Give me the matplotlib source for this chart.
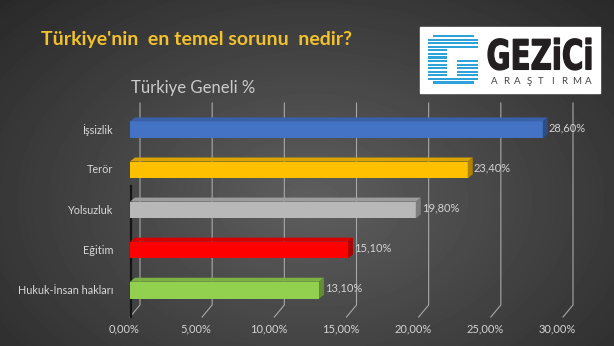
import numpy as np
import matplotlib.pyplot as plt
from matplotlib.patches import Polygon, Rectangle, PathPatch
from matplotlib.textpath import TextPath
from matplotlib.font_manager import FontProperties
from matplotlib.transforms import Affine2D

# data
categories = ['İşsizlik', 'Terör', 'Yolsuzluk', 'Eğitim', 'Hukuk-İnsan hakları']
values = [28.6, 23.4, 19.8, 15.1, 13.1]
colors = ['#4472C4', '#FFC000', '#B8B8B8', '#FF0000', '#92D050']
xticks = [0, 5, 10, 15, 20, 25, 30]

W, H = 614, 346
plt.rcParams['font.family'] = ['Lato', 'DejaVu Sans']

fig = plt.figure(figsize=(W / 100, H / 100), dpi=100)

# dark radial background
bg = fig.add_axes([0, 0, 1, 1])
yy, xx = np.mgrid[0:H, 0:W]
r = np.sqrt(((xx - 310) / 430) ** 2 + ((yy - 200) / 290) ** 2)
shade = 0.37 - 0.21 * np.clip(r, 0, 1)
bg.imshow(shade, cmap='gray', vmin=0, vmax=1, extent=[0, W, H, 0], aspect='auto')
bg.set_xlim(0, W)
bg.set_ylim(H, 0)
bg.axis('off')

# chart area (front plane: 0 -> x=130px, 30 -> x=563px)
x0, x1 = 130, 563
ytop, ybot = 103, 317
ax = fig.add_axes([x0 / W, 1 - ybot / H, (x1 - x0) / W, (ybot - ytop) / H])
ax.set_xlim(0, 30)
ax.set_ylim(4.67, -0.67)
ax.patch.set_visible(False)
for s in ax.spines.values():
    s.set_visible(False)
ax.set_xticks([])
ax.set_yticks([])

pxx = (x1 - x0) / 30.0
pxy = (ybot - ytop) / (4.67 + 0.67)
back = 10 / pxx

# gridlines on the back wall + floor diagonals
for t in xticks:
    ax.plot([t + back, t + back, t], [-0.67, 4.37, 4.67], color='#a8a8a8',
            lw=0.8, clip_on=False, zorder=1)
    ax.text(t - 6 / pxx, 4.67 + 12 / pxy, ('%.2f%%' % t).replace('.', ','),
            ha='center', va='center', fontsize=8, color='#d4d4d4', clip_on=False)

# dark side wall edge
ax.plot([0.1, 0.1], [1.4, 4.67], color='#151515', lw=1.6, zorder=2, clip_on=False)

ypos = np.arange(len(categories))
bh = 0.42
ax.barh(ypos, values, height=bh, color=colors, zorder=3)

ddx = 5 / pxx
ddy = 4 / pxy


def shade_col(c, f):
    rgb = np.array(plt.matplotlib.colors.to_rgb(c))
    return tuple(rgb * f)


for y, v, c in zip(ypos, values, colors):
    top = y - bh / 2
    bot = y + bh / 2
    ax.add_patch(Polygon([(0, top), (v, top), (v + ddx, top - ddy), (ddx, top - ddy)],
                         closed=True, color=shade_col(c, 0.85), zorder=3, lw=0))
    ax.add_patch(Polygon([(v, top), (v + ddx, top - ddy), (v + ddx, bot - ddy), (v, bot)],
                         closed=True, color=shade_col(c, 0.68), zorder=3, lw=0))
    ax.text(v + ddx + 1 / pxx, y - 0.06, ('%.2f%%' % v).replace('.', ','),
            ha='left', va='center', fontsize=8, color='#d4d4d4', zorder=4)
    ax.text(-17 / pxx, y, categories[y], ha='right', va='center',
            fontsize=7.8, color='#d8d8d8', clip_on=False)

# titles
fig.text(41 / W, 1 - 39 / H, "Türkiye'nin  en temel sorunu  nedir?", fontsize=14,
         fontweight='bold', color='#F2C12E', va='center')
fig.text(131 / W, 1 - 88 / H, 'Türkiye Geneli %', fontsize=12,
         color='#cccccc', va='center')

# logo
lg = fig.add_axes([0, 0, 1, 1])
lg.set_xlim(0, W)
lg.set_ylim(H, 0)
lg.axis('off')
lg.add_patch(Rectangle((420, 27), 180, 66, color='white', zorder=1))
rows = ([[(433, 474)]] + [[(428, 478)]] * 3 + [[(428, 447)]] * 3
        + [[(428, 447), (457, 478)]] * 5 + [[(428, 478)]] + [[(433, 474)]])
pitch = 50 / 14.0
for i, segs in enumerate(rows):
    for a, b in segs:
        lg.add_patch(Rectangle((a, 35 + i * pitch), b - a, pitch * 0.62,
                               color='#2EA3DA', zorder=2, lw=0))
tp = TextPath((0, 0), 'GEZiCi', size=1, prop=FontProperties(family='DejaVu Sans', weight='bold'))
bb = tp.get_extents()
tr = Affine2D().translate(-bb.x0, -bb.y0).scale(103 / bb.width, -32 / bb.height).translate(488, 70)
lg.add_patch(PathPatch(tr.transform_path(tp), facecolor='#231f20', edgecolor='#231f20',
                       lw=0.9, zorder=2))
for ch, xx_ in zip('ARAŞTIRMA', np.linspace(494, 588, 9)):
    lg.text(xx_, 81, ch, ha='center', va='center', fontsize=7, color='#444444', zorder=2)

fig.savefig('out.png', dpi=100)
